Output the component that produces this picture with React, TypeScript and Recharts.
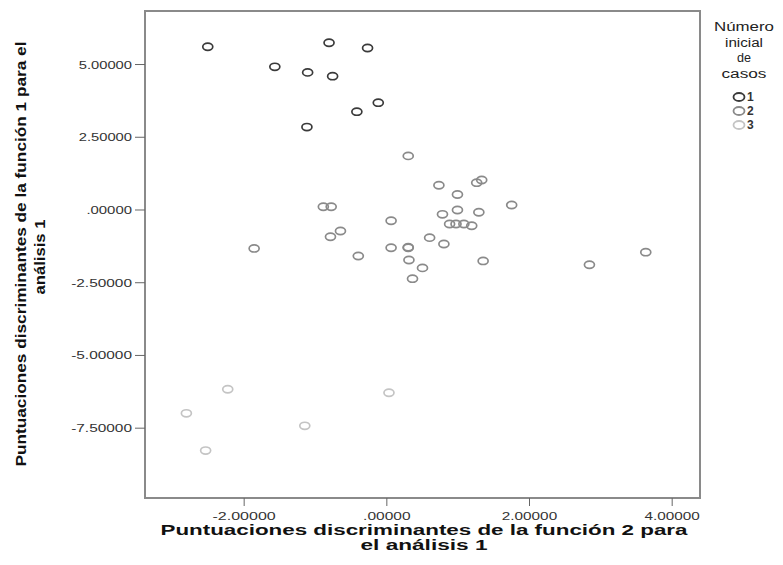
import { Label, Legend, ReferenceArea, Scatter, ScatterChart, XAxis, YAxis } from "recharts";

// Número inicial de casos = 1
const caso1X = [-2.51, -0.81, -0.27, -1.57, -1.11, -0.76, -0.42, -0.12, -1.12];
const caso1Y = [5.61, 5.75, 5.57, 4.92, 4.73, 4.6, 3.38, 3.69, 2.85];

// Número inicial de casos = 2
const caso2X = [
  0.3, 0.73, 0.99, 1.26, 1.33, 1.75, 0.06, 0.78, 0.99, 1.29, 0.88, 0.97, 1.08, 1.19, 0.6, 0.8,
  0.06, 0.3, 0.3, 0.31, 0.5, 0.36, 1.35, -0.89, -0.78, -0.79, -0.65, -1.86, -0.4, 2.84, 3.63,
];
const caso2Y = [
  1.86, 0.85, 0.53, 0.94, 1.03, 0.17, -0.37, -0.15, 0.0, -0.08, -0.48, -0.48, -0.48, -0.54,
  -0.95, -1.17, -1.3, -1.3, -1.28, -1.72, -1.99, -2.36, -1.75, 0.11, 0.11, -0.92, -0.72, -1.32,
  -1.58, -1.88, -1.45,
];

// Número inicial de casos = 3
const caso3X = [-2.23, -2.81, -2.54, -1.15, 0.03];
const caso3Y = [-6.16, -6.99, -8.27, -7.42, -6.28];

const xTicks = [-2, 0, 2, 4];
const yTicks = [5, 2.5, 0, -2.5, -5, -7.5];
const legendTitle = ["Número", "inicial", "de", "casos"];
const legendTitleWidths = [60, 38, 14, 45];
const legendItems = ["1", "2", "3"];
const colors = ["#3a3a3a", "#8a8a8a", "#c4c4c4"];

const X_MIN = -3.39;
const X_MAX = 4.39;
const Y_MIN = -9.9;
const Y_MAX = 6.84;

const FONT = "Arial, 'Liberation Sans', sans-serif";

const toPoints = (xs: number[], ys: number[]) => xs.map((x, i) => ({ x, y: ys[i] }));
const fmt = (v: number) => (v === 0 ? ".00000" : v.toFixed(5));

function XTick({ x, y, payload }: any) {
  const label = fmt(payload.value);
  return (
    <text
      x={x}
      y={y + 12}
      textAnchor="middle"
      fontSize={11}
      fontFamily={FONT}
      fill="#333"
      textLength={label.length * 7.9}
      lengthAdjust="spacingAndGlyphs"
    >
      {label}
    </text>
  );
}

function YTick({ x, y, payload }: any) {
  const label = fmt(payload.value);
  return (
    <text
      x={x - 1}
      y={y + 4}
      textAnchor="end"
      fontSize={11}
      fontFamily={FONT}
      fill="#333"
      textLength={label.length * 7.6}
      lengthAdjust="spacingAndGlyphs"
    >
      {label}
    </text>
  );
}

const ring = (color: string) => (props: any) => (
  <ellipse cx={props.cx} cy={props.cy} rx={5} ry={3.6} fill="none" stroke={color} strokeWidth={1.7} />
);

function CasesLegend() {
  return (
    <svg width={83} height={130}>
      {legendTitle.map((t, i) => (
        <text
          key={t}
          x={44}
          y={21 + i * 15.7}
          textAnchor="middle"
          fontSize={12}
          fontFamily={FONT}
          fill="#222"
          textLength={legendTitleWidths[i]}
          lengthAdjust="spacingAndGlyphs"
        >
          {t}
        </text>
      ))}
      {legendItems.map((t, i) => (
        <g key={t}>
          <ellipse cx={39} cy={87 + i * 14} rx={5.5} ry={4} fill="none" stroke={colors[i]} strokeWidth={1.8} />
          <text x={47} y={91 + i * 14} fontSize={12} fontWeight="bold" fontFamily={FONT} fill="#333">
            {t}
          </text>
        </g>
      ))}
    </svg>
  );
}

const XTitle = () => (
  <g fontFamily={FONT} fontWeight="bold" fontSize={14} fill="#111" textAnchor="middle">
    <text x={424} y={535} textLength={527} lengthAdjust="spacingAndGlyphs">
      Puntuaciones discriminantes de la función 2 para
    </text>
    <text x={424} y={550} textLength={127} lengthAdjust="spacingAndGlyphs">
      el análisis 1
    </text>
  </g>
);

const YTitle = () => (
  <g fontFamily={FONT} fontWeight="bold" fontSize={14} fill="#111" textAnchor="middle">
    <text x={21} y={254} dominantBaseline="central" transform="rotate(-90 21 254)" textLength={425} lengthAdjust="spacingAndGlyphs">
      Puntuaciones discriminantes de la función 1 para el
    </text>
    <text x={40} y={257} dominantBaseline="central" transform="rotate(-90 40 257)" textLength={75} lengthAdjust="spacingAndGlyphs">
      análisis 1
    </text>
  </g>
);

export default function App() {
  return (
    <div style={{ position: "absolute", left: 0, top: 0, background: "#fff" }}>
      <ScatterChart width={783} height={565} margin={{ top: 11, right: 83, bottom: 0, left: 0 }}>
        <XAxis
          type="number"
          dataKey="x"
          domain={[X_MIN, X_MAX]}
          ticks={xTicks}
          allowDataOverflow
          height={67}
          axisLine={false}
          tickLine={{ stroke: "#666" }}
          tickSize={8}
          tick={<XTick />}
        >
          <Label content={<XTitle />} />
        </XAxis>
        <YAxis
          type="number"
          dataKey="y"
          domain={[Y_MIN, Y_MAX]}
          ticks={yTicks}
          allowDataOverflow
          width={145}
          axisLine={false}
          tickLine={{ stroke: "#666" }}
          tickSize={10}
          tick={<YTick />}
        >
          <Label content={<YTitle />} />
        </YAxis>
        <ReferenceArea
          x1={X_MIN}
          x2={X_MAX}
          y1={Y_MIN}
          y2={Y_MAX}
          fill="none"
          stroke="#8a8a8a"
          strokeWidth={2}
        />
        <Legend
          layout="vertical"
          align="center"
          verticalAlign="middle"
          content={<CasesLegend />}
          wrapperStyle={{ left: 700, top: 10, width: 83 }}
        />
        <Scatter name="1" data={toPoints(caso1X, caso1Y)} shape={ring(colors[0])} isAnimationActive={false} />
        <Scatter name="2" data={toPoints(caso2X, caso2Y)} shape={ring(colors[1])} isAnimationActive={false} />
        <Scatter name="3" data={toPoints(caso3X, caso3Y)} shape={ring(colors[2])} isAnimationActive={false} />
      </ScatterChart>
    </div>
  );
}
